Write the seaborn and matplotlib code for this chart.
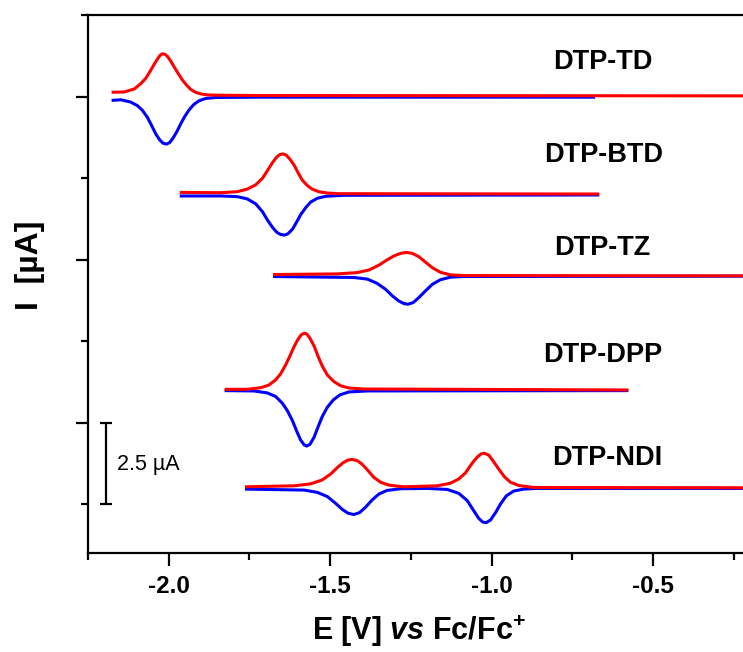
import matplotlib
matplotlib.use("Agg")
import matplotlib.pyplot as plt
import seaborn as sns

# Differential pulse voltammetry traces, potential E (V vs Fc/Fc+) and current I (µA, offset per compound)
compounds = ["DTP-TD", "DTP-BTD", "DTP-TZ", "DTP-DPP", "DTP-NDI"]

td_red_E = [-2.177, -2.138, -2.107, -2.087, -2.071, -2.056, -2.045, -2.035, -2.027, -2.020, -2.011, -2.004, -1.994,
            -1.984, -1.971, -1.958, -1.944, -1.932, -1.917, -1.901, -1.880, -1.850, -1.715, -0.222]
td_red_I = [14.13, 14.14, 14.23, 14.39, 14.56, 14.80, 14.99, 15.15, 15.26, 15.31, 15.29, 15.23, 15.09,
            14.92, 14.71, 14.51, 14.34, 14.22, 14.13, 14.08, 14.05, 14.04, 14.03, 14.02]
td_blue_E = [-2.177, -2.148, -2.118, -2.097, -2.081, -2.066, -2.054, -2.040, -2.028, -2.018, -2.007, -1.997, -1.987,
             -1.975, -1.963, -1.951, -1.937, -1.922, -1.906, -1.886, -1.855, -1.715, -0.680]
td_blue_I = [13.88, 13.90, 13.83, 13.72, 13.57, 13.36, 13.13, 12.85, 12.67, 12.57, 12.54, 12.59, 12.72,
             12.92, 13.16, 13.38, 13.59, 13.76, 13.87, 13.94, 13.97, 13.98, 13.98]

btd_red_E = [-1.966, -1.839, -1.788, -1.757, -1.731, -1.710, -1.693, -1.679, -1.666, -1.656, -1.646, -1.636, -1.625,
             -1.612, -1.600, -1.587, -1.571, -1.556, -1.535, -1.509, -1.478, -0.667]
btd_red_I = [11.06, 11.05, 11.08, 11.16, 11.29, 11.49, 11.75, 11.97, 12.14, 12.22, 12.24, 12.20, 12.08,
             11.90, 11.67, 11.44, 11.27, 11.16, 11.08, 11.04, 11.02, 11.01]
btd_blue_E = [-1.966, -1.839, -1.788, -1.757, -1.731, -1.710, -1.693, -1.679, -1.666, -1.654, -1.642, -1.631, -1.617,
              -1.604, -1.592, -1.576, -1.561, -1.540, -1.514, -1.458, -0.667]
btd_blue_I = [10.95, 10.95, 10.93, 10.86, 10.71, 10.47, 10.19, 9.99, 9.84, 9.77, 9.75, 9.79, 9.93,
              10.15, 10.37, 10.59, 10.76, 10.88, 10.94, 10.97, 10.98]

tz_red_E = [-1.677, -1.478, -1.416, -1.380, -1.349, -1.324, -1.303, -1.282, -1.264, -1.246, -1.226, -1.205, -1.184,
            -1.159, -1.128, -1.087, -0.222]
tz_red_I = [8.54, 8.56, 8.60, 8.68, 8.83, 8.99, 9.11, 9.19, 9.22, 9.19, 9.09, 8.92, 8.75,
            8.61, 8.53, 8.51, 8.50]
tz_blue_E = [-1.677, -1.427, -1.385, -1.355, -1.329, -1.308, -1.288, -1.272, -1.260, -1.243, -1.226, -1.205, -1.184,
             -1.159, -1.128, -1.087, -0.222]
tz_blue_I = [8.48, 8.45, 8.40, 8.27, 8.09, 7.89, 7.73, 7.65, 7.63, 7.68, 7.83, 8.04, 8.24,
             8.38, 8.46, 8.48, 8.49]

dpp_red_E = [-1.827, -1.757, -1.715, -1.690, -1.669, -1.654, -1.638, -1.625, -1.612, -1.600, -1.590, -1.581, -1.573,
             -1.563, -1.550, -1.538, -1.525, -1.509, -1.489, -1.468, -1.442, -1.396, -0.577]
dpp_red_I = [5.02, 5.02, 5.07, 5.15, 5.31, 5.49, 5.77, 6.04, 6.33, 6.55, 6.69, 6.74, 6.72,
             6.59, 6.35, 6.04, 5.74, 5.46, 5.26, 5.13, 5.06, 5.03, 5.00]
dpp_blue_E = [-1.827, -1.736, -1.695, -1.669, -1.648, -1.633, -1.617, -1.604, -1.592, -1.581, -1.573, -1.563, -1.550,
              -1.538, -1.525, -1.509, -1.491, -1.470, -1.442, -1.385, -0.577]
dpp_blue_I = [4.98, 4.97, 4.91, 4.80, 4.59, 4.37, 4.06, 3.74, 3.47, 3.32, 3.28, 3.33, 3.55,
              3.86, 4.18, 4.47, 4.69, 4.85, 4.94, 4.97, 4.98]

ndi_red_E = [-1.764, -1.612, -1.561, -1.525, -1.499, -1.478, -1.460, -1.445, -1.432, -1.416, -1.401, -1.385, -1.365,
             -1.344, -1.318, -1.272, -1.169, -1.128, -1.102, -1.081, -1.061, -1.045, -1.033, -1.023, -1.009,
             -0.994, -0.978, -0.961, -0.942, -0.916, -0.870, -0.222]
ndi_red_I = [2.03, 2.06, 2.12, 2.24, 2.42, 2.62, 2.77, 2.85, 2.87, 2.83, 2.72, 2.55, 2.32,
             2.17, 2.08, 2.03, 2.06, 2.14, 2.27, 2.46, 2.75, 2.94, 3.04, 3.06, 3.00,
             2.80, 2.57, 2.34, 2.17, 2.07, 2.01, 2.00]
ndi_blue_E = [-1.764, -1.581, -1.540, -1.509, -1.483, -1.463, -1.445, -1.427, -1.409, -1.391, -1.370, -1.349, -1.324,
              -1.282, -1.200, -1.138, -1.102, -1.076, -1.056, -1.040, -1.028, -1.017, -1.004, -0.988, -0.973,
              -0.955, -0.932, -0.901, -0.860, -0.222]
ndi_blue_I = [1.96, 1.93, 1.86, 1.73, 1.52, 1.34, 1.22, 1.18, 1.24, 1.40, 1.63, 1.81, 1.92,
              1.97, 1.98, 1.95, 1.83, 1.61, 1.30, 1.06, 0.95, 0.93, 1.01, 1.24, 1.50,
              1.75, 1.90, 1.96, 1.98, 1.98]

x_major = [-2.0, -1.5, -1.0, -0.5]
x_minor = [-2.25, -1.75, -1.25, -0.75, -0.25]
y_major = [4.0, 9.0, 14.0]
y_minor = [1.5, 6.5, 11.5, 16.5]

scale_bar_value = 2.5  # µA
scale_bar_base = 1.5

sns.set_theme(style="ticks")
plt.rcParams["font.family"] = ["Liberation Sans", "DejaVu Sans"]
plt.rcParams["axes.unicode_minus"] = False
plt.rcParams["mathtext.fontset"] = "custom"
plt.rcParams["mathtext.rm"] = "Liberation Sans:bold"
plt.rcParams["mathtext.bf"] = "Liberation Sans:bold"
plt.rcParams["mathtext.it"] = "Liberation Sans:italic:bold"

fig = plt.figure(figsize=(7.43, 6.52), dpi=100)
ax = fig.add_axes([88 / 743, 1 - 553 / 652, 655 / 743, 538 / 652])

traces = [
    (td_red_E, td_red_I, td_blue_E, td_blue_I),
    (btd_red_E, btd_red_I, btd_blue_E, btd_blue_I),
    (tz_red_E, tz_red_I, tz_blue_E, tz_blue_I),
    (dpp_red_E, dpp_red_I, dpp_blue_E, dpp_blue_I),
    (ndi_red_E, ndi_red_I, ndi_blue_E, ndi_blue_I),
]

for rE, rI, bE, bI in traces:
    sns.lineplot(x=bE, y=bI, sort=False, estimator=None, color="#0000ff",
                 linewidth=2.2, ax=ax, solid_joinstyle="round", solid_capstyle="butt")
    sns.lineplot(x=rE, y=rI, sort=False, estimator=None, color="#ff0000",
                 linewidth=2.2, ax=ax, solid_joinstyle="round", solid_capstyle="butt")

# compound names beside their traces
label_pos = [(-0.655, 15.06), (-0.652, 12.21), (-0.657, 9.36), (-0.655, 6.07), (-0.643, 2.91)]
for name, (lx, ly) in zip(compounds, label_pos):
    ax.text(lx, ly, name, ha="center", va="center", fontsize=19.5, fontweight="bold", color="black")

# current scale bar
bar_x = -2.195
ax.errorbar([bar_x], [scale_bar_base + scale_bar_value / 2], yerr=[scale_bar_value / 2],
            fmt="none", ecolor="black", elinewidth=1.6, capsize=4, capthick=1.6)
ax.text(-2.160, scale_bar_base + scale_bar_value / 2 - 0.05, f"{scale_bar_value} µA",
        ha="left", va="center", fontsize=15.5, color="black")

ax.set_xlim(-2.248, -0.222)
ax.set_ylim(0, 16.5)
ax.set_xticks(x_major)
ax.set_xticks(x_minor, minor=True)
ax.set_xticklabels([f"{v:.1f}" for v in x_major], fontsize=17.5, fontweight="bold", color="black")
ax.set_yticks(y_major)
ax.set_yticks(y_minor, minor=True)
ax.set_yticklabels([])

ax.tick_params(axis="both", which="major", length=9, width=1.6, color="black", direction="out", pad=7)
ax.tick_params(axis="both", which="minor", length=5, width=1.6, color="black", direction="out")
ax.tick_params(top=False, right=False, which="both")

for side in ["left", "bottom", "top"]:
    ax.spines[side].set_linewidth(1.6)
    ax.spines[side].set_color("black")
ax.spines["right"].set_visible(False)

ax.set_xlabel(r"E [V] $\mathit{vs}$ Fc/Fc$^{+}$", fontsize=22, fontweight="bold", color="black")
ax.xaxis.set_label_coords(0.505, -0.112)
ax.set_ylabel("I  [µA]", fontsize=23, fontweight="bold", color="black")
ax.yaxis.set_label_coords(-0.066, 0.535)

fig.savefig("out.png", dpi=100, facecolor="white")
